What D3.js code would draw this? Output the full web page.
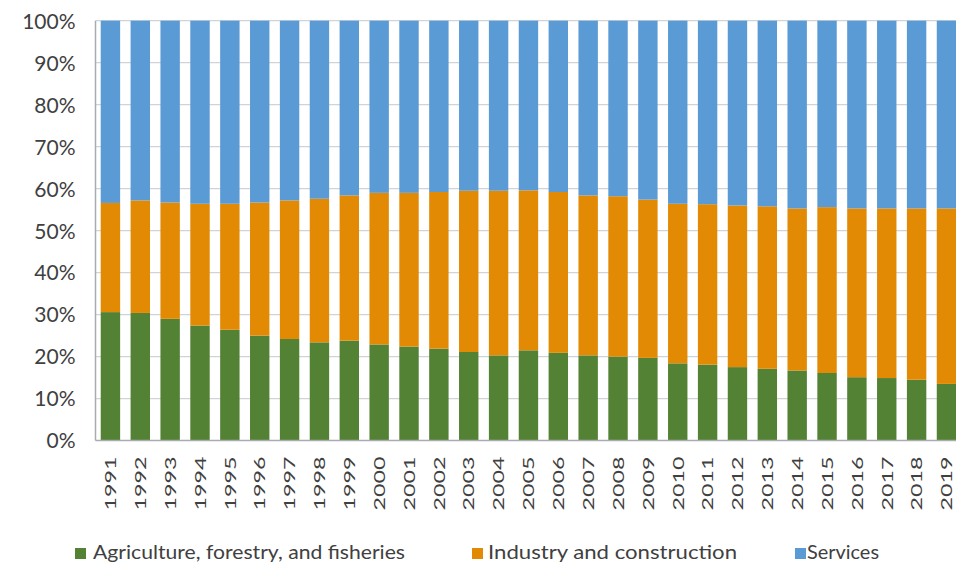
<!DOCTYPE html>
<html>
<head>
<meta charset="utf-8">
<script src="https://cdn.jsdelivr.net/npm/d3@7/dist/d3.min.js"></script>
<style>
  html, body { margin: 0; padding: 0; background: #fff; }
  svg { display: block; }
</style>
</head>
<body>
<svg id="chart" width="956" height="567"></svg>
<script>
const years = [1991,1992,1993,1994,1995,1996,1997,1998,1999,2000,2001,2002,2003,2004,2005,2006,2007,2008,2009,2010,2011,2012,2013,2014,2015,2016,2017,2018,2019];
const agriculture = [30.6,30.4,29.0,27.4,26.4,25.0,24.2,23.4,23.8,22.9,22.4,21.9,21.1,20.3,21.5,20.9,20.3,20.0,19.7,18.4,18.1,17.5,17.1,16.7,16.1,15.1,14.9,14.5,13.5];
const industry = [26.0,26.8,27.7,29.0,30.0,31.7,33.0,34.2,34.6,36.1,36.6,37.3,38.4,39.2,38.1,38.3,38.1,38.2,37.7,38.0,38.2,38.5,38.7,38.6,39.5,40.2,40.4,40.8,41.8];
const services = [43.4,42.8,43.3,43.6,43.6,43.3,42.8,42.4,41.6,41.0,41.0,40.8,40.5,40.5,40.4,40.8,41.6,41.8,42.6,43.6,43.7,44.0,44.2,44.7,44.4,44.7,44.7,44.7,44.7];
const seriesNames = ["Agriculture, forestry, and fisheries", "Industry and construction", "Services"];
const seriesKeys = ["agri", "ind", "serv"];
const colors = ["#548235", "#E38A05", "#5B9BD5"];
const yTicks = [0,0.1,0.2,0.3,0.4,0.5,0.6,0.7,0.8,0.9,1.0];

const rows = years.map((yr, i) => ({year: yr, agri: agriculture[i], ind: industry[i], serv: services[i]}));
const stack = d3.stack().keys(seriesKeys).offset(d3.stackOffsetExpand);
const stacked = stack(rows);

const svg = d3.select("#chart");
const mLeft = 95.5, mRight = 961.4, mTop = 20.7, mBottom = 440.6;

const x = d3.scaleBand().domain(years).range([mLeft, mRight]).paddingInner(0.35).paddingOuter(0.175);
const y = d3.scaleLinear().domain([0, 1]).range([mBottom, mTop]);

// gridlines
svg.append("g").selectAll("line").data(yTicks.filter(t => t > 0)).join("line")
  .attr("x1", mLeft).attr("x2", 956)
  .attr("y1", d => y(d)).attr("y2", d => y(d))
  .attr("stroke", "#d0d3d8").attr("stroke-width", 1.2);

// bars
svg.append("g").selectAll("g").data(stacked).join("g")
  .attr("fill", (d, i) => colors[i])
  .selectAll("rect").data(d => d).join("rect")
  .attr("x", d => x(d.data.year))
  .attr("width", x.bandwidth())
  .attr("y", d => y(d[1]))
  .attr("height", d => y(d[0]) - y(d[1]));

// axes lines
svg.append("line").attr("x1", mLeft).attr("x2", mLeft).attr("y1", mTop).attr("y2", mBottom)
  .attr("stroke", "#a9abae").attr("stroke-width", 1.5);
svg.append("line").attr("x1", mLeft).attr("x2", 956).attr("y1", mBottom).attr("y2", mBottom)
  .attr("stroke", "#a9abae").attr("stroke-width", 1.5);

// y labels
const yAxis = d3.axisLeft(y).tickValues(yTicks).tickFormat(d3.format(".0%")).tickSize(0).tickPadding(0);
const yg = svg.append("g").attr("transform", `translate(${mLeft - 20},0)`).call(yAxis);
yg.select(".domain").remove();
yg.selectAll("text").attr("font-family", "Lato, sans-serif").attr("font-size", 21)
  .attr("fill", "#404040").attr("dy", "0.35em");

// x labels
const xAxis = d3.axisBottom(x).tickSize(0).tickPadding(0);
const xg = svg.append("g").attr("transform", `translate(0,${mBottom})`).call(xAxis);
xg.select(".domain").remove();
xg.selectAll("text")
  .attr("font-family", "Lato, sans-serif").attr("font-size", 16).attr("fill", "#404040")
  .attr("text-anchor", "end")
  .attr("transform", "translate(0,16) rotate(-90)")
  .attr("x", 0).attr("y", 0).attr("dy", "0.36em")
  .attr("textLength", 54).attr("lengthAdjust", "spacingAndGlyphs");

// legend
const legendItems = [
  {sx: 75, tx: 93, tw: 312},
  {sx: 472, tx: 488, tw: 249},
  {sx: 795, tx: 807, tw: 72}
];
const lg = svg.append("g");
legendItems.forEach((it, i) => {
  lg.append("rect").attr("x", it.sx).attr("y", 548).attr("width", 11).attr("height", 11).attr("fill", colors[i]);
  lg.append("text").attr("x", it.tx).attr("y", 559)
    .attr("font-family", "Lato, sans-serif").attr("font-size", 20).attr("fill", "#404040")
    .attr("textLength", it.tw).attr("lengthAdjust", "spacingAndGlyphs")
    .text(seriesNames[i]);
});
</script>
</body>
</html>
